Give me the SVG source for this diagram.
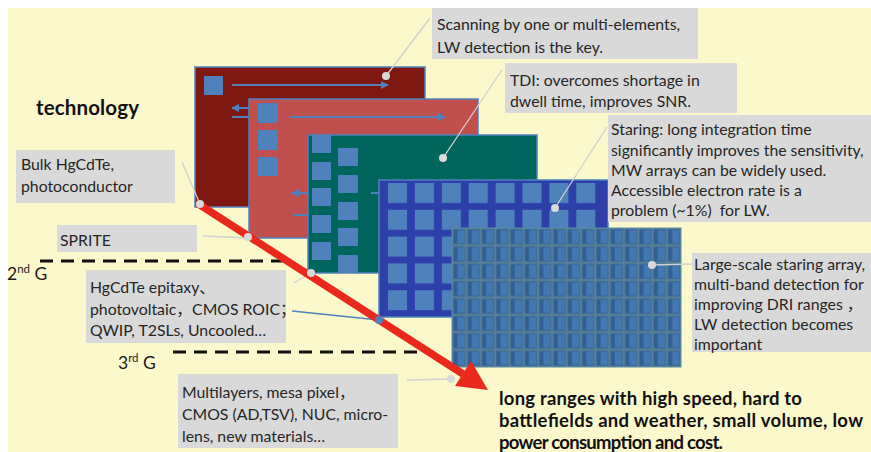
<svg xmlns="http://www.w3.org/2000/svg" width="871" height="452" viewBox="0 0 871 452">
  <defs>
    <style>
      .box { fill: #D9D9D9; }
      .txt { font-family: Lato, "Noto Sans CJK SC", sans-serif; font-size: 15.8px; fill: #262626; }
      .big { font-family: Lato, "Noto Sans CJK SC", sans-serif; font-weight: bold; fill: #111111; }
      .gen { font-family: Lato, sans-serif; font-size: 17.5px; fill: #1a1a1a; }
      .frame { stroke: #4F81BD; stroke-width: 1.5; }
      .cell { fill: #4F81BD; }
      .flow { stroke: #4F81BD; stroke-width: 2; fill: none; }
      .lead { stroke: #D0D0D0; stroke-width: 1.3; fill: none; }
      .dot { fill: #D9D9D9; }
      .gen-line { stroke: #111; stroke-width: 3; stroke-dasharray: 13 8; fill: none; }
      .pre { white-space: pre; }
    </style>
    <marker id="head" viewBox="0 0 10 10" refX="9" refY="5" markerWidth="4" markerHeight="4" orient="auto-start-reverse">
      <path d="M0,0 L10,5 L0,10 z" fill="#4F81BD"/>
    </marker>
    <!-- focal-plane array cell: grey-blue border with split pixel -->
    <pattern id="fpa" x="452" y="228" width="14.3125" height="17.375" patternUnits="userSpaceOnUse">
      <rect width="14.3125" height="17.375" fill="#557F98"/>
      <rect x="1.4" y="1.4" width="11.6" height="14.6" fill="#315E93"/>
      <rect x="5.4" y="2.2" width="7" height="13" fill="#4378B2"/>
    </pattern>
    <!-- regular grid of staring-array pixels -->
    <pattern id="stare" x="388" y="183" width="26.9" height="26.8" patternUnits="userSpaceOnUse">
      <rect width="19" height="20" fill="#4F81BD"/>
    </pattern>
  </defs>

  <!-- canvas -->
  <rect width="871" height="452" fill="#FFFFFF"/>
  <rect x="8" y="8" width="863" height="444" fill="#FBF8CC"/>

  <g id="title">
    <text class="big" x="36" y="115" font-size="20.5" textLength="103">technology</text>
  </g>

  <!-- generation separators -->
  <g id="generation-2">
    <line class="gen-line" x1="40" y1="261" x2="284" y2="261"/>
    <text class="gen" x="7" y="280">2<tspan font-size="11.5" dy="-7">nd</tspan><tspan dy="7"> G</tspan></text>
  </g>
  <g id="generation-3">
    <line class="gen-line" x1="173" y1="352" x2="420" y2="352"/>
    <text class="gen" x="118" y="369">3<tspan font-size="11.5" dy="-7">rd</tspan><tspan dy="7"> G</tspan></text>
  </g>

  <!-- detector panels, back to front -->
  <g id="panel-scanning">
    <rect class="frame" x="195" y="67" width="230" height="140" fill="#7F1810"/>
    <rect class="cell" x="204" y="76" width="19" height="19"/>
    <line class="flow" x1="232" y1="85" x2="388" y2="85" marker-end="url(#head)"/>
    <line class="flow" x1="249" y1="108" x2="232" y2="108" marker-end="url(#head)"/>
    <line class="flow" x1="232" y1="117" x2="249" y2="117"/>
  </g>

  <g id="panel-tdi">
    <rect class="frame" x="249" y="99" width="229" height="139" fill="#C0504D"/>
    <rect class="cell" x="258" y="103" width="20" height="20"/>
    <rect class="cell" x="258" y="130" width="20" height="20"/>
    <rect class="cell" x="258" y="157" width="20" height="19"/>
    <line class="flow" x1="290" y1="117" x2="445" y2="117" marker-end="url(#head)"/>
    <line class="flow" x1="308" y1="193" x2="292" y2="193" marker-end="url(#head)"/>
    <line class="flow" x1="294" y1="215" x2="308" y2="215"/>
  </g>

  <g id="panel-staring">
    <rect class="frame" x="308" y="135" width="229" height="138" fill="#00655D"/>
    <rect class="cell" x="312" y="135" width="19" height="18"/>
    <rect class="cell" x="312" y="162" width="19" height="18"/>
    <rect class="cell" x="312" y="188" width="19" height="18"/>
    <rect class="cell" x="312" y="215" width="19" height="18"/>
    <rect class="cell" x="312" y="242" width="19" height="18"/>
    <rect class="cell" x="338" y="148" width="20" height="18"/>
    <rect class="cell" x="338" y="175" width="20" height="18"/>
    <rect class="cell" x="338" y="202" width="20" height="18"/>
    <rect class="cell" x="338" y="228" width="20" height="18"/>
    <rect class="cell" x="338" y="255" width="20" height="18"/>
    <line class="flow" x1="371" y1="193" x2="380" y2="193"/>
  </g>

  <g id="panel-array">
    <rect class="frame" x="379" y="180" width="229" height="137" fill="#2F3FA9"/>
    <rect x="388" y="183" width="215" height="130" fill="url(#stare)"/>
  </g>

  <g id="panel-large-array">
    <rect x="452" y="228" width="229" height="139" fill="url(#fpa)" stroke="#5B8AA3" stroke-width="1"/>
  </g>

  <!-- callout leaders and the development arrow -->
  <g id="connectors">
    <line class="lead" x1="386" y1="76" x2="430" y2="18"/>
    <line class="lead" x1="443" y1="158" x2="502" y2="70"/>
    <line class="lead" x1="555" y1="208" x2="607" y2="127"/>
    <line class="lead" x1="652" y1="265" x2="692" y2="264"/>
    <line class="lead" x1="182" y1="162" x2="200" y2="204"/>
    <line class="lead" x1="203" y1="236" x2="248" y2="238"/>
    <line class="lead" x1="294" y1="283" x2="311" y2="273"/>
    <line class="lead" x1="407" y1="380" x2="451" y2="379"/>
    <line x1="292" y1="311" x2="379" y2="320" stroke="#4F81BD" stroke-width="1.3"/>

    <line x1="197" y1="203" x2="463" y2="374" stroke="#E8291C" stroke-width="7.5"/>
    <polygon points="488,390 455,386 471,361" fill="#E8291C"/>

    <circle class="dot" cx="386" cy="76" r="4"/>
    <circle class="dot" cx="443" cy="158" r="4"/>
    <circle class="dot" cx="555" cy="208" r="4"/>
    <circle class="dot" cx="652" cy="265" r="4"/>
    <circle class="dot" cx="200" cy="204" r="4"/>
    <circle class="dot" cx="248" cy="237" r="4"/>
    <circle class="dot" cx="311" cy="273" r="4"/>
    <circle class="dot" cx="451" cy="379" r="4"/>
    <circle cx="379" cy="320" r="4" fill="#4F81BD"/>
  </g>

  <!-- descriptive labels -->
  <g id="label-scanning">
    <rect class="box" x="432" y="8" width="266" height="51"/>
    <text class="txt" x="437" y="30">Scanning by one or multi-elements,</text>
    <text class="txt" x="437" y="53">LW detection is the key.</text>
  </g>

  <g id="label-tdi">
    <rect class="box" x="505" y="63" width="232" height="50"/>
    <text class="txt" x="510" y="86">TDI: overcomes shortage in</text>
    <text class="txt" x="510" y="107">dwell time, improves SNR.</text>
  </g>

  <g id="label-staring">
    <rect class="box" x="608" y="115" width="268" height="107"/>
    <text class="txt" x="611" y="135">Staring: long integration time</text>
    <text class="txt" x="611" y="155.5">significantly improves the sensitivity,</text>
    <text class="txt" x="611" y="176">MW arrays can be widely used.</text>
    <text class="txt" x="611" y="196">Accessible electron rate is a</text>
    <text class="txt pre" x="611" y="216">problem (~1%)  for LW.</text>
  </g>

  <g id="label-large-array">
    <rect class="box" x="692" y="253" width="179" height="99"/>
    <text class="txt" x="694" y="270">Large-scale staring array,</text>
    <text class="txt" x="694" y="290">multi-band detection for</text>
    <text class="txt" x="694" y="310">improving DRI ranges ，</text>
    <text class="txt" x="694" y="330">LW detection becomes</text>
    <text class="txt" x="694" y="350">important</text>
  </g>

  <g id="label-bulk">
    <rect class="box" x="16" y="150" width="159" height="53"/>
    <text class="txt" x="21" y="170">Bulk HgCdTe,</text>
    <text class="txt" x="21" y="192">photoconductor</text>
  </g>

  <g id="label-sprite">
    <rect class="box" x="57" y="225" width="140" height="27"/>
    <text class="txt" x="60" y="246">SPRITE</text>
  </g>

  <g id="label-epitaxy">
    <rect class="box" x="86" y="270" width="200" height="73"/>
    <text class="txt" x="90" y="293">HgCdTe epitaxy、</text>
    <text class="txt" x="90" y="315">photovoltaic，CMOS ROIC；</text>
    <text class="txt" x="90" y="336">QWIP, T2SLs, Uncooled…</text>
  </g>

  <g id="label-multilayers">
    <rect class="box" x="178" y="374" width="220" height="74"/>
    <text class="txt" x="182" y="398">Multilayers, mesa pixel，</text>
    <text class="txt" x="182" y="420">CMOS (AD,TSV), NUC, micro-</text>
    <text class="txt" x="182" y="442">lens, new materials…</text>
  </g>

  <g id="goal">
    <text class="big" x="499" y="405" font-size="18.5" textLength="303">long ranges with high speed, hard to</text>
    <text class="big" x="499" y="427" font-size="18.5" textLength="364">battlefields and weather, small volume, low</text>
    <text class="big" x="499" y="449" font-size="18.5" textLength="224">power consumption and cost.</text>
  </g>
</svg>
